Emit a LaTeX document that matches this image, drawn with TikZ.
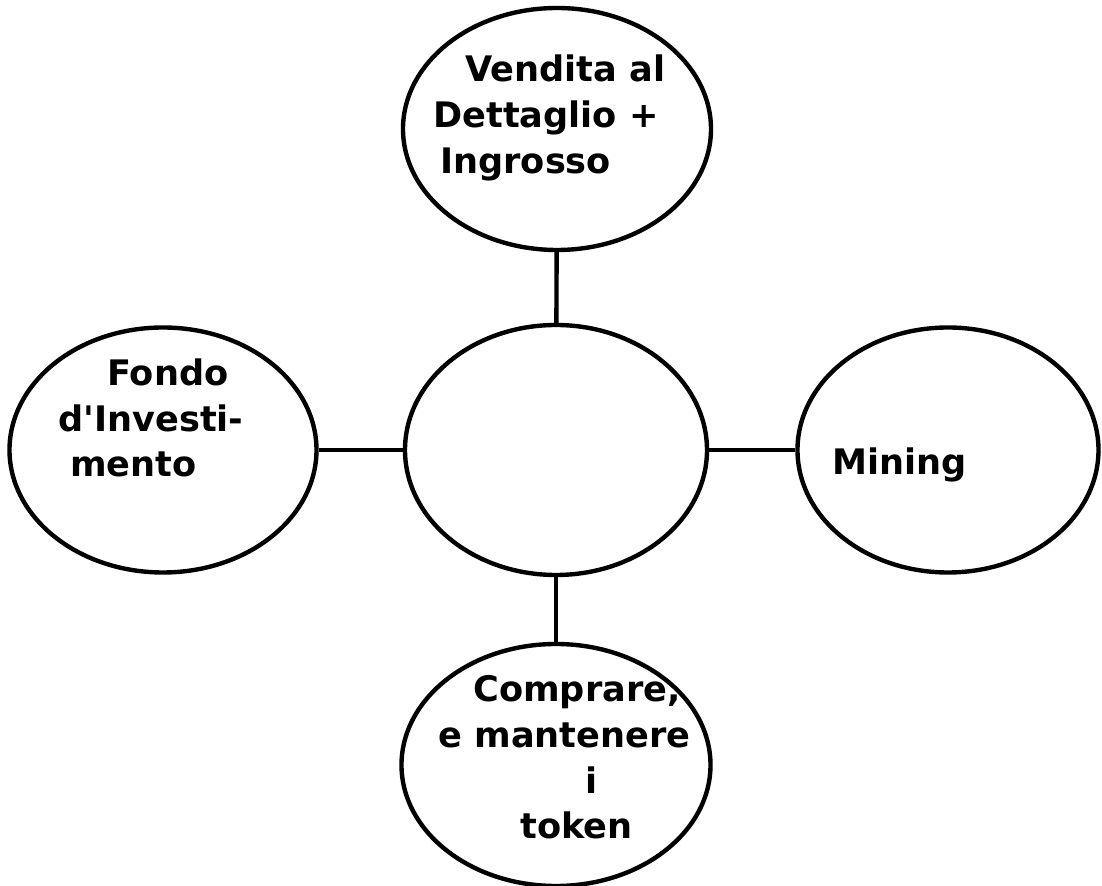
\documentclass[tikz,border=0pt]{standalone}
\usepackage{fontspec}
\setmainfont{DejaVu Sans}[Ligatures=TeXOff]
\usetikzlibrary{shapes.geometric}

\begin{document}
\begin{tikzpicture}[
    bubble/.style={draw, ellipse, line width=2.5pt, inner sep=0pt, fill=white},
    lab/.style={align=left, inner sep=0pt, font=\bfseries\fontsize{20}{26}\selectfont},
    link/.style={line width=2.5pt}
  ]

  % Fix the page size
  \useasboundingbox (0,0) rectangle (22.04,17.72);

  % Draw the ellipses
  \node[bubble, minimum width=6.04cm, minimum height=5.0cm] (center) at (11.12,8.72) {};
  \node[bubble, minimum width=6.16cm, minimum height=4.84cm] (top) at (11.14,15.14) {};
  \node[bubble, minimum width=6.14cm, minimum height=4.9cm] (left) at (3.26,8.72) {};
  \node[bubble, minimum width=6.02cm, minimum height=4.9cm] (right) at (18.96,8.72) {};
  \node[bubble, minimum width=6.18cm, minimum height=4.84cm] (bottom) at (11.12,2.42) {};

  % Connect them to the middle one
  \draw[link] (top) -- (center);
  \draw[link] (left) -- (center);
  \draw[link] (center) -- (right);
  \draw[link] (center) -- (bottom);

  % Labels
  \node[lab, anchor=west] (toplab) at (8.66,15.36)
    {\hspace*{0.64cm}Vendita al\\Dettaglio +\\\hspace*{0.14cm}Ingrosso};
  \node[lab, anchor=west] (leftlab) at (1.16,9.36)
    {\hspace*{0.98cm}Fondo\\d'Investi-\\\hspace*{0.24cm}mento};
  \node[lab, anchor=west] (rightlab) at (16.64,8.42) {Mining};
  \node[lab, anchor=west] (bottomlab) at (8.76,2.57)
    {\hspace*{0.7cm}Comprare,\\e mantenere\\\hspace*{2.94cm}i\\\hspace*{1.64cm}token};

\end{tikzpicture}
\end{document}
